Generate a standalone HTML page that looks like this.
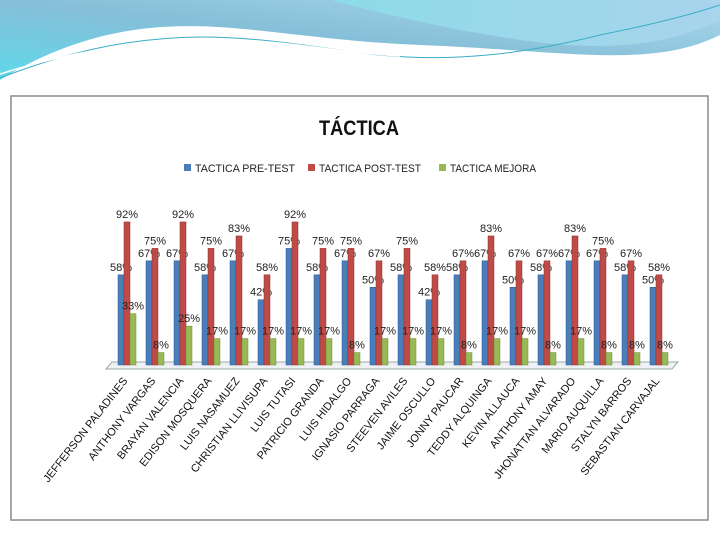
<!DOCTYPE html>
<html><head><meta charset="utf-8"><style>
body{margin:0;width:720px;height:540px;overflow:hidden;background:#fff;font-family:"Liberation Sans",sans-serif;}
</style></head><body>
<svg width="720" height="540">
<defs>
<linearGradient id="g1" x1="0" y1="1" x2="1" y2="0"><stop offset="0" stop-color="#5fd8ea"/><stop offset="0.5" stop-color="#86bfd8"/><stop offset="1" stop-color="#a9d8ee"/></linearGradient>
<linearGradient id="g2" x1="0" y1="0" x2="1" y2="0"><stop offset="0" stop-color="#8ddbe8"/><stop offset="1" stop-color="#a8d4ec"/></linearGradient>
</defs>
<g>
<path d="M0,0 H720 V35 C650,70 560,50 420,45 C300,40 230,20 150,28 C90,34 40,55 0,80 Z" fill="url(#g1)"/>
<path d="M330,0 H720 V20 C660,50 590,50 520,40 C440,28 390,15 330,0 Z" fill="url(#g2)"/>
<path d="M0,78 C60,55 120,38 200,37 C270,37 330,50 380,55 C450,62 520,55 600,35 C650,25 690,15 720,5" fill="none" stroke="#3aaec8" stroke-width="1"/>
<path d="M0,74 C70,52 130,42 200,40 C280,38 330,52 400,56" fill="none" stroke="#fff" stroke-width="1.5"/>
</g>
<rect x="11" y="96" width="697" height="424" fill="#fff" stroke="#8a8a8a" stroke-width="1.5"/>
<text x="359" y="135" text-anchor="middle" font-size="21" font-weight="bold" fill="#111" textLength="80" lengthAdjust="spacingAndGlyphs">TÁCTICA</text>
<g font-size="11" fill="#222">
<g><rect x="184" y="164" width="7" height="7" fill="#4a7ebb"/><text x="195" y="172" textLength="100" lengthAdjust="spacingAndGlyphs">TACTICA PRE-TEST</text></g>
<g><rect x="308" y="164" width="7" height="7" fill="#be4b48"/><text x="319" y="172" textLength="102" lengthAdjust="spacingAndGlyphs">TACTICA POST-TEST</text></g>
<g><rect x="439" y="164" width="7" height="7" fill="#98b954"/><text x="450" y="172" textLength="86" lengthAdjust="spacingAndGlyphs">TACTICA MEJORA</text></g>
</g>
<polygon points="106,369 672,369 678,362 112,362" fill="#eef2f7" stroke="#9aa" stroke-width="1"/>
<g id="bars"></g>
<g id="labels"></g>
</svg>
<script>
const categories=["JEFFERSON PALADINES","ANTHONY VARGAS","BRAYAN VALENCIA","EDISON MOSQUERA","LUIS NASAMUEZ","CHRISTIAN LLIVISUPA","LUIS TUTASI","PATRICIO GRANDA","LUIS HIDALGO","IGNASIO PARRAGA","STEEVEN AVILES","JAIME OSCULLO","JONNY PAUCAR","TEDDY ALQUINGA","KEVIN ALLAUCA","ANTHONY AMAY","JHONATTAN ALVARADO","MARIO AUQUILLA","STALYN BARROS","SEBASTIAN CARVAJAL"];
const preTest=[58,67,67,58,67,42,75,58,67,50,58,42,58,67,50,58,67,67,58,50];
const postTest=[92,75,92,75,83,58,92,75,75,67,75,58,67,83,67,67,83,75,67,58];
const mejora=[33,8,25,17,17,17,17,17,8,17,17,17,8,17,17,8,17,8,8,8];
const NS="http://www.w3.org/2000/svg";
const base=365, scale=1.555;
function y(v){return base-v*scale;}
function xg(i){return 118+i*28;}
const series=[{d:preTest,c:"#4a7ebb",dk:"#2f5a8f",n:"pre"},{d:postTest,c:"#be4b48",dk:"#8c2f2d",n:"post"},{d:mejora,c:"#98b954",dk:"#6f8a35",n:"mejora"}];
const bars=document.getElementById('bars');
categories.forEach((cat,i)=>{
  series.forEach((s,k)=>{
    const v=s.d[i], x=xg(i)+k*6, top=y(v);
    const r=document.createElementNS(NS,'rect');
    r.setAttribute('x',x);r.setAttribute('y',top);r.setAttribute('width',6);r.setAttribute('height',base-top);
    r.setAttribute('fill',s.c);r.setAttribute('stroke',s.dk);r.setAttribute('stroke-width',0.5);
    
    
    bars.appendChild(r);
    const t=document.createElementNS(NS,'text');
    t.setAttribute('x',x+3);t.setAttribute('y',top-4);t.setAttribute('text-anchor','middle');
    t.setAttribute('font-size','11');t.setAttribute('fill','#222');
    t.textContent=v+'%';
    
    
    bars.appendChild(t);
  });
});
const labels=document.getElementById('labels');
categories.forEach((cat,i)=>{
  const cx=xg(i)+10, cy=381;
  const t=document.createElementNS(NS,'text');
  t.setAttribute('x',cx);t.setAttribute('y',cy);t.setAttribute('text-anchor','end');
  t.setAttribute('font-size','11');t.setAttribute('fill','#111');
  t.setAttribute('transform','rotate(-52 '+cx+' '+cy+')');
  t.textContent=cat;
  
  
  labels.appendChild(t);
});
</script>
</body></html>
